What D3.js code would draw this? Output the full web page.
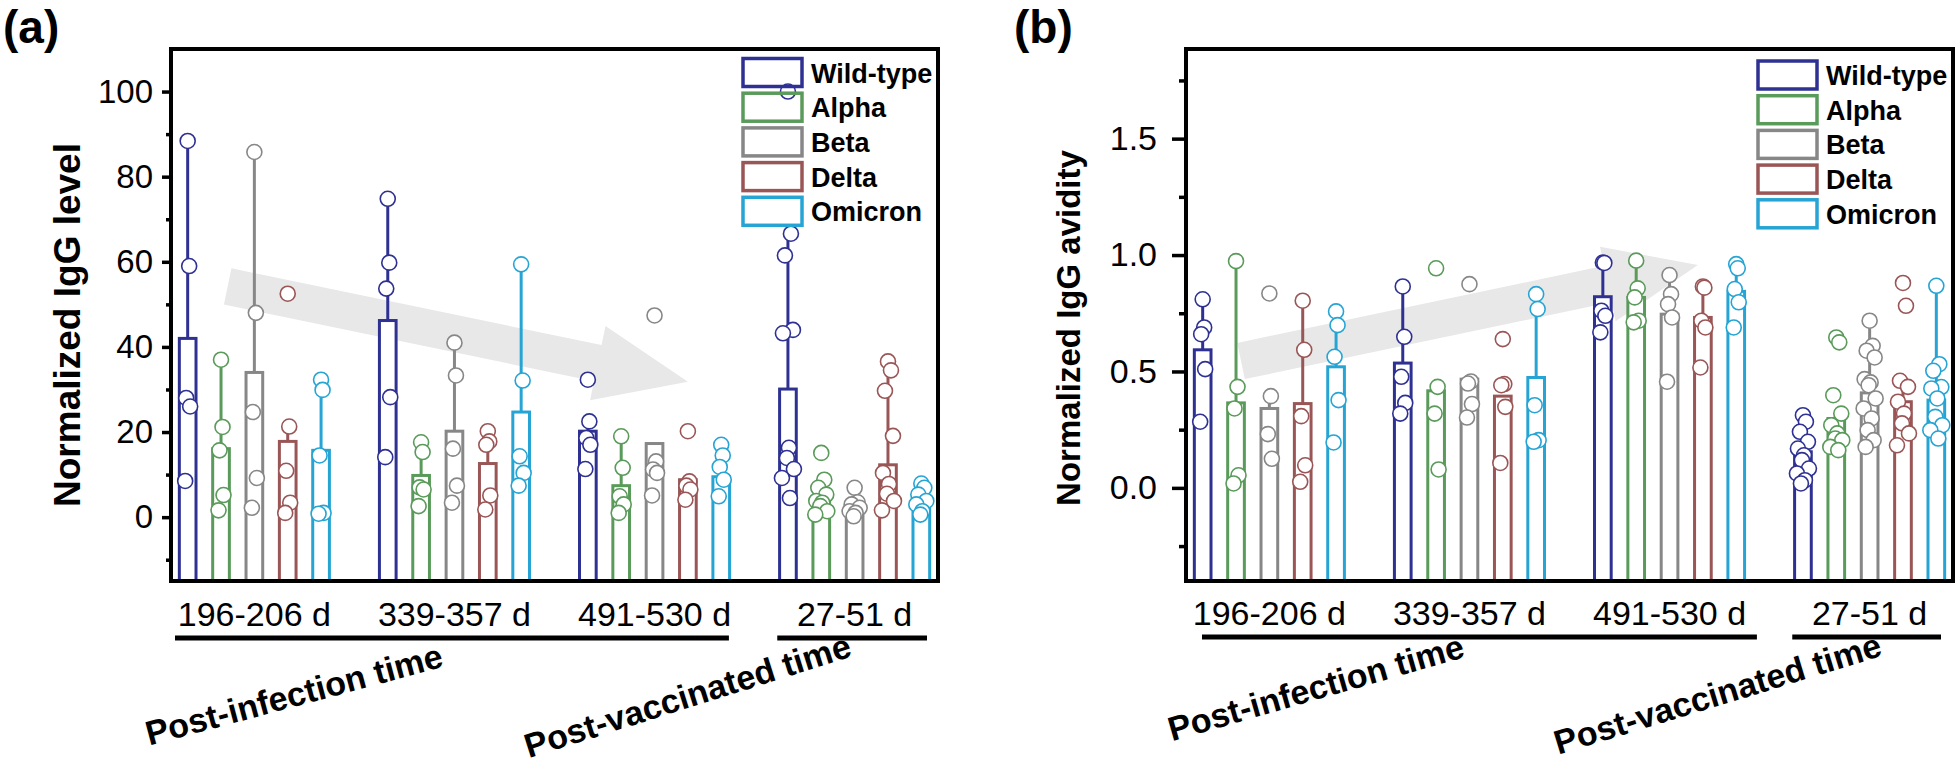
<!DOCTYPE html>
<html>
<head>
<meta charset="utf-8">
<script src="https://cdn.jsdelivr.net/npm/d3@7"></script>
<style>
  body { margin: 0; background: #fff; }
  text { font-family: "Liberation Sans", Arial, sans-serif; }
</style>
</head>
<body>
<svg id="chart" width="1958" height="768"></svg>
<script>
// categories
var variants = ["Wild-type", "Alpha", "Beta", "Delta", "Omicron"];
var variantColors = ["#2e3192", "#5a9a5a", "#878787", "#9a5656", "#26a4d4"];
var periods = ["196-206 d", "339-357 d", "491-530 d", "27-51 d"];
var periodGroups = ["Post-infection time", "Post-vaccinated time"];

// (a) normalized IgG level, rows = periods, columns = variants
var levelMean = [
  [42, 16.1, 34, 17.8, 15.7],
  [46.2, 9.8, 20.2, 12.6, 24.7],
  [20.2, 7.4, 17.3, 8.8, 9.5],
  [30.1, 4.5, 1.8, 12.3, 2.2]
];
// top end of the error bar
var levelErr = [
  [88.4, 37, 85.8, 21.3, 32.3],
  [74.8, 17.6, 41, 20.2, 59.4],
  [22.5, 19, 17.3, 8.8, 17],
  [66.6, 4.5, 1.8, 34.5, 2.2]
];
var levelPoints = [
  [[88.4, 59, 28, 26, 8.5], [37, 21.2, 15.7, 5.2, 1.6], [85.8, 48, 24.7, 9.2, 2.2], [52.5, 21.3, 10.9, 3.4, 1], [32.3, 29.9, 14.5, 1, 0.8]],
  [[74.8, 59.8, 53.7, 28.2, 14.1], [17.6, 15.3, 7, 6.5, 2.6], [41, 33.3, 16.1, 7.4, 3.4], [20.2, 17.8, 17, 5.1, 1.8], [59.4, 32.1, 14.3, 10.4, 7.4]],
  [[32.3, 22.5, 18.6, 17, 11.3], [19, 11.6, 4.9, 3, 1], [47.4, 13.1, 11.2, 10.4, 5.1], [20.2, 8.4, 7.4, 6.5, 4.1], [17, 14.5, 11.8, 8.8, 4.9]],
  [[100, 66.6, 61.5, 44, 43.2, 16.3, 13.9, 11.3, 9.2, 4.5], [15.1, 8.8, 6.9, 5.3, 3.8, 3.4, 2.6, 1.4, 0.6], [6.9, 3.5, 3, 2.2, 1.4, 1, 0.2], [36.6, 34.5, 29.7, 19.1, 10.4, 7.8, 5.5, 3.8, 1.6], [7.9, 6.9, 5.3, 3.8, 3, 1.4, 0.6]]
];
var levelTicks = [0, 20, 40, 60, 80, 100];
var levelMinor = [-10, 10, 30, 50, 70, 90];
// trend arrow: [slot, value] start and tip
var levelTrend = [[1.7, 54.2], [15.5, 31.8]];

// (b) normalized IgG avidity
var avidMean = [
  [0.593, 0.365, 0.341, 0.362, 0.52],
  [0.536, 0.417, 0.467, 0.394, 0.474],
  [0.821, 0.818, 0.746, 0.732, 0.844],
  [0.155, 0.298, 0.408, 0.37, 0.377]
];
var avidErr = [
  [0.81, 0.974, 0.394, 0.804, 0.758],
  [0.865, 0.417, 0.467, 0.394, 0.832],
  [0.968, 0.976, 0.914, 0.865, 0.96],
  [0.155, 0.298, 0.718, 0.46, 0.868]
];
var avidPoints = [
  [[0.81, 0.689, 0.66, 0.51, 0.284], [0.974, 0.434, 0.341, 0.054, 0.019], [0.835, 0.394, 0.231, 0.125], [0.804, 0.593, 0.308, 0.097, 0.026], [0.758, 0.699, 0.563, 0.377, 0.195]],
  [[0.865, 0.649, 0.477, 0.365, 0.319], [0.943, 0.434, 0.319, 0.079], [0.875, 0.457, 0.448, 0.36, 0.302], [0.639, 0.446, 0.441, 0.348, 0.107], [0.832, 0.768, 0.355, 0.205, 0.198]],
  [[0.968, 0.966, 0.761, 0.739, 0.668], [0.976, 0.857, 0.818, 0.718, 0.711], [0.914, 0.832, 0.789, 0.732, 0.456], [0.865, 0.86, 0.718, 0.689, 0.517], [0.961, 0.943, 0.854, 0.797, 0.689]],
  [[0.312, 0.284, 0.241, 0.198, 0.169, 0.14, 0.119, 0.083, 0.062, 0.033, 0.019],
   [0.646, 0.625, 0.398, 0.319, 0.269, 0.234, 0.212, 0.205, 0.176, 0.162],
   [0.718, 0.61, 0.589, 0.56, 0.467, 0.453, 0.441, 0.384, 0.341, 0.298, 0.248, 0.205, 0.176],
   [0.88, 0.782, 0.46, 0.434, 0.37, 0.319, 0.277, 0.234, 0.183],
   [0.868, 0.531, 0.503, 0.433, 0.427, 0.384, 0.305, 0.269, 0.248, 0.212]]
];
var avidTicks = [0, 0.5, 1.0, 1.5];
var avidMinor = [-0.25, 0.25, 0.75, 1.25, 1.75];
var avidTrend = [[1.65, 0.545], [15.35, 0.957]];

// small sideways spread of the dots
var jitter = [0, 3, -3, 5, -5, 1, -1, 6, -6, 2, -2, 4, -4];

var svg = d3.select("#chart");

function arrowPoints(a, b, shaft, head, headLen) {
  var dx = b[0] - a[0], dy = b[1] - a[1];
  var len = Math.sqrt(dx * dx + dy * dy);
  var ux = dx / len, uy = dy / len, nx = -uy, ny = ux;
  var bx = a[0] + ux * (len - headLen), by = a[1] + uy * (len - headLen);
  return [
    [a[0] + nx * shaft, a[1] + ny * shaft],
    [bx + nx * shaft, by + ny * shaft],
    [bx + nx * head, by + ny * head],
    b,
    [bx - nx * head, by - ny * head],
    [bx - nx * shaft, by - ny * shaft],
    [a[0] - nx * shaft, a[1] - ny * shaft]
  ];
}

function drawPanel(cfg) {
  var yTop = 49, yBot = 581;
  var g = svg.append("g");

  var y = d3.scaleLinear().domain(cfg.domain).range([yBot, yTop]);
  var slot = d3.scaleLinear().domain([0, 23]).range([cfg.left, cfg.right]);
  var xGroup = d3.scaleBand().domain(periods).range([cfg.left, cfg.right])
    .paddingInner(1 / 6).paddingOuter(0);
  var xVar = d3.scaleBand().domain(variants).range([0, xGroup.bandwidth()])
    .paddingInner(0.5).paddingOuter(0.25);
  var color = d3.scaleOrdinal().domain(variants).range(variantColors);

  var rows = [];
  periods.forEach(function(p, pi) {
    variants.forEach(function(v, vi) {
      rows.push({
        period: p, variant: v,
        mean: cfg.mean[pi][vi], err: cfg.err[pi][vi], pts: cfg.points[pi][vi],
        cx: xGroup(p) + xVar(v) + xVar.bandwidth() / 2
      });
    });
  });

  // grey trend arrow behind everything
  var pa = [slot(cfg.trend[0][0]), y(cfg.trend[0][1])];
  var pb = [slot(cfg.trend[1][0]), y(cfg.trend[1][1])];
  g.append("polygon")
    .attr("points", arrowPoints(pa, pb, 18.5, 38, 92).map(function(d) { return d.join(","); }).join(" "))
    .attr("fill", "#e8e8e8");

  // bars
  g.selectAll("rect.bar")
    .data(rows)
    .enter()
    .append("rect")
    .attr("class", "bar")
    .attr("x", d => d.cx - xVar.bandwidth() / 2)
    .attr("y", d => y(d.mean))
    .attr("width", xVar.bandwidth())
    .attr("height", d => yBot - y(d.mean))
    .attr("fill", "#fff")
    .attr("stroke", d => color(d.variant))
    .attr("stroke-width", 3);

  // error bars (upper only)
  g.selectAll("line.err")
    .data(rows.filter(d => d.err > d.mean))
    .enter()
    .append("line")
    .attr("class", "err")
    .attr("x1", d => d.cx).attr("x2", d => d.cx)
    .attr("y1", d => y(d.mean)).attr("y2", d => y(d.err))
    .attr("stroke", d => color(d.variant))
    .attr("stroke-width", 3);

  // single values
  var dots = [];
  rows.forEach(function(r) {
    r.pts.forEach(function(v, i) {
      dots.push({ variant: r.variant, value: v, cx: r.cx + jitter[i % jitter.length] * (r.pts.length > 6 ? 1 : 0.5) });
    });
  });
  g.selectAll("circle.pt")
    .data(dots)
    .enter()
    .append("circle")
    .attr("class", "pt")
    .attr("cx", d => d.cx)
    .attr("cy", d => y(d.value))
    .attr("r", 7.5)
    .attr("fill", "#fff")
    .attr("stroke", d => color(d.variant))
    .attr("stroke-width", 1.6);

  // frame
  g.append("rect")
    .attr("x", cfg.left).attr("y", yTop)
    .attr("width", cfg.right - cfg.left).attr("height", yBot - yTop)
    .attr("fill", "none").attr("stroke", "#000").attr("stroke-width", 4);

  // y axis
  var yAxis = g.append("g")
    .attr("transform", `translate(${cfg.left},0)`)
    .call(d3.axisLeft(y).tickValues(cfg.ticks).tickSize(cfg.tickLen).tickPadding(cfg.tickPad).tickFormat(cfg.fmt));
  yAxis.select(".domain").remove();
  yAxis.selectAll("line").attr("stroke-width", 3.5);
  yAxis.selectAll("text")
    .attr("font-family", "'Liberation Sans', Arial, sans-serif")
    .style("font-size", cfg.tickFont + "px")
    .attr("fill", "#000");

  var yMinor = g.append("g")
    .attr("transform", `translate(${cfg.left},0)`)
    .call(d3.axisLeft(y).tickValues(cfg.minor).tickSize(cfg.minorLen).tickFormat(""));
  yMinor.select(".domain").remove();
  yMinor.selectAll("line").attr("stroke-width", 3.5);

  // y title
  g.append("text")
    .attr("transform", `translate(${cfg.titleX}, ${cfg.titleY}) rotate(-90)`)
    .attr("text-anchor", "middle")
    .style("font-weight", "bold")
    .style("font-size", cfg.titleFont + "px")
    .text(cfg.title);

  // period labels
  g.selectAll("text.period")
    .data(periods)
    .enter()
    .append("text")
    .attr("class", "period")
    .attr("x", d => xGroup(d) + xGroup.bandwidth() / 2)
    .attr("y", cfg.catY)
    .attr("text-anchor", "middle")
    .style("font-size", "34px")
    .text(d => d);

  // underlines for the two time groups
  var spans = [
    [xGroup(periods[0]) + cfg.under[0][0], xGroup(periods[2]) + xGroup.bandwidth() + cfg.under[0][1]],
    [xGroup(periods[3]) + cfg.under[1][0], xGroup(periods[3]) + xGroup.bandwidth() + cfg.under[1][1]]
  ];
  g.selectAll("line.under")
    .data(spans)
    .enter()
    .append("line")
    .attr("x1", d => d[0]).attr("x2", d => d[1])
    .attr("y1", cfg.catY + 12).attr("y2", cfg.catY + 12)
    .attr("stroke", "#000").attr("stroke-width", 5);

  g.selectAll("text.group")
    .data(periodGroups)
    .enter()
    .append("text")
    .attr("transform", (d, i) => `translate(${cfg.groupPos[i][0]}, ${cfg.groupPos[i][1]}) rotate(${cfg.groupPos[i][2]})`)
    .attr("text-anchor", "middle")
    .style("font-weight", "bold")
    .style("font-size", "34px")
    .text(d => d);

  // legend
  var leg = g.selectAll("g.leg")
    .data(variants)
    .enter()
    .append("g")
    .attr("transform", (d, i) => `translate(${cfg.right - 195}, ${cfg.legTop + i * 34.7})`);
  leg.append("rect")
    .attr("width", 59).attr("height", 28)
    .attr("fill", "none")
    .attr("stroke", d => color(d))
    .attr("stroke-width", 3.5);
  leg.append("text")
    .attr("x", 68).attr("y", 24)
    .style("font-weight", "bold")
    .style("font-size", "27px")
    .text(d => d);

  // panel letter
  g.append("text")
    .attr("x", cfg.letterX).attr("y", 43)
    .style("font-weight", "bold")
    .style("font-size", "46px")
    .text(cfg.letter);
}

drawPanel({
  letter: "(a)", letterX: 3,
  left: 171, right: 938,
  domain: [-15, 110],
  ticks: levelTicks, minor: levelMinor, fmt: d3.format("d"),
  tickLen: 9, minorLen: 5, tickPad: 9, tickFont: 33,
  title: "Normalized IgG level", titleX: 80, titleY: 325, titleFont: 37,
  mean: levelMean, err: levelErr, points: levelPoints, trend: levelTrend,
  catY: 626, under: [[4, -9], [6, -11]],
  groupPos: [[297, 706, -15], [691, 707, -17.5]],
  legTop: 58.5
});

drawPanel({
  letter: "(b)", letterX: 1014,
  left: 1186, right: 1953,
  domain: [-0.4, 1.885],
  ticks: avidTicks, minor: avidMinor, fmt: d3.format(".1f"),
  tickLen: 14, minorLen: 7, tickPad: 15, tickFont: 34,
  title: "Normalized IgG avidity", titleX: 1080, titleY: 328, titleFont: 33,
  mean: avidMean, err: avidErr, points: avidPoints, trend: avidTrend,
  catY: 625, under: [[16, 4], [6, -12]],
  groupPos: [[1319, 699, -16], [1721, 705, -17]],
  legTop: 61
});
</script>
</body>
</html>
